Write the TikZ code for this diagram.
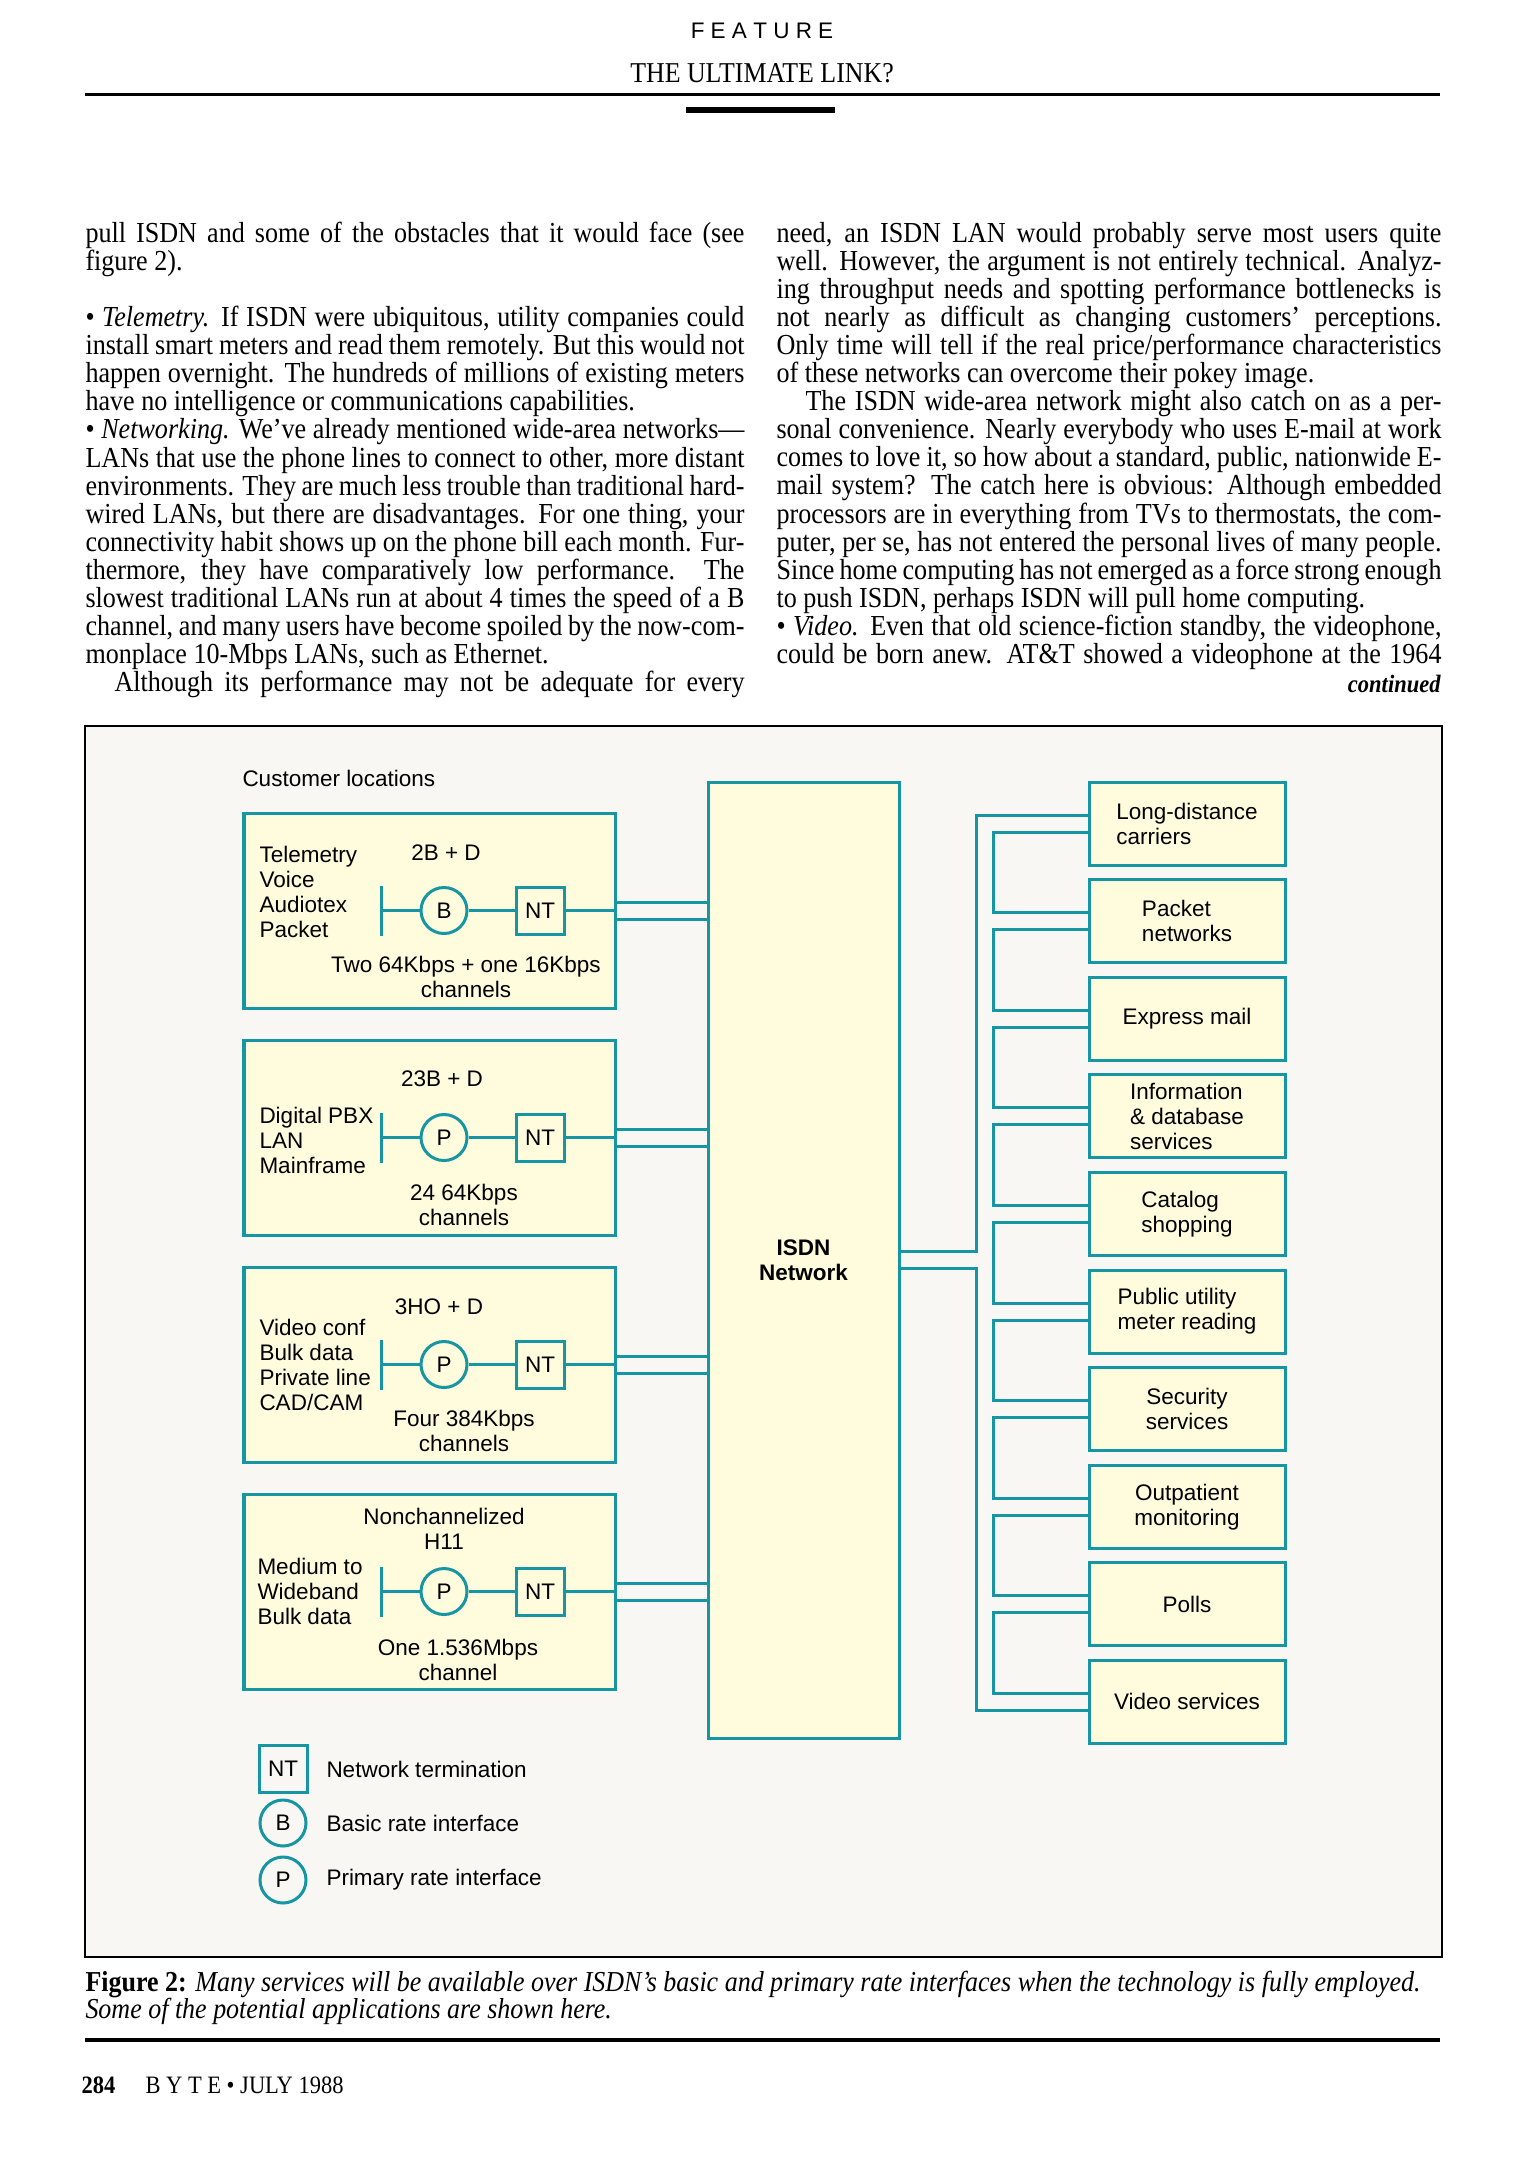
\documentclass[tikz,border=0pt]{standalone}
\usepackage{fontspec}
\setmainfont[FakeStretch=0.9]{Liberation Serif}
\newfontfamily\dfont{Liberation Sans}
\usepackage{xcolor}
\usetikzlibrary{positioning,calc,backgrounds}

\definecolor{isdnteal}{RGB}{22,150,162}
\definecolor{boxfill}{RGB}{255,252,222}
\definecolor{figbg}{RGB}{248,247,244}

\newcommand{\lcol}[1]{\makebox[263.6pt][s]{#1}}
\newcommand{\rcol}[1]{\makebox[266pt][s]{#1}}

\begin{document}
\begin{tikzpicture}[
  x=0.4pt, y=-0.4pt,
  body/.style={anchor=base west,inner sep=0pt,font=\fontsize{11.6}{11.24}\selectfont},
  lbl/.style={inner sep=0pt,align=center,font=\dfont\fontsize{9}{10}\selectfont},
  cust/.style={rectangle,draw=isdnteal,line width=1.2pt,fill=boxfill,minimum width=148.4pt,minimum height=78pt},
  net/.style={rectangle,draw=isdnteal,line width=1.2pt,fill=boxfill,minimum width=76.4pt,minimum height=382.4pt,align=center,font=\dfont\bfseries\fontsize{9}{10}\selectfont},
  svc/.style={rectangle,draw=isdnteal,line width=1.2pt,fill=boxfill,minimum width=78.4pt,minimum height=33.2pt,inner sep=0pt,align=left,font=\dfont\fontsize{9}{10}\selectfont},
  rif/.style={circle,draw=isdnteal,line width=1.2pt,minimum size=18.4pt,inner sep=0pt,font=\dfont\fontsize{9}{10}\selectfont},
  nt/.style={rectangle,draw=isdnteal,line width=1.2pt,minimum width=19.2pt,minimum height=18.8pt,inner sep=0pt,font=\dfont\fontsize{9}{10}\selectfont},
  wire/.style={draw=isdnteal,line width=1.2pt}
]
\useasboundingbox (0,0) rectangle (1537,2160);
\begin{scope}[on background layer]
  \fill[white] (0,0) rectangle (1537,2160);
  \node[draw,line width=0.8pt,fill=figbg,minimum width=542.8pt,minimum height=492.4pt,inner sep=0pt] (fig) at (763.5,1341.5) {};
\end{scope}

% running head
\node[font=\dfont\fontsize{9}{10}\selectfont] (kicker) at (762,31) {F E A T U R E};
\node[font=\fontsize{11.5}{12}\selectfont] (title) at (762,73) {THE ULTIMATE LINK?};
\draw[line width=1.2pt] (85,94) -- (1440,94);
\fill (686,107) rectangle (835,113);

% left column
\node[body] (ltxt1) at (85,242) {\lcol{pull ISDN and some of the obstacles that it would face (see}};
\node[body] (ltxt2) at (85,270) {\lcol{figure 2).\hfill}};
\foreach \txt [count=\i from 3] in {
  {• \textit{Telemetry.} If ISDN were ubiquitous, utility companies could},
  {install smart meters and read them remotely. But this would not},
  {happen overnight. The hundreds of millions of existing meters},
  {have no intelligence or communications capabilities.\hfill},
  {• \textit{Networking.} We've already mentioned wide-area networks---},
  {LANs that use the phone lines to connect to other, more distant},
  {environments. They are much less trouble than traditional hard-},
  {wired LANs, but there are disadvantages. For one thing, your},
  {connectivity habit shows up on the phone bill each month. Fur-},
  {thermore, they have comparatively low performance. The},
  {slowest traditional LANs run at about 4 times the speed of a B},
  {channel, and many users have become spoiled by the now-com-},
  {monplace 10-Mbps LANs, such as Ethernet.\hfill},
  {\hspace*{1em}Although its performance may not be adequate for every}}
  \node[body] (ltxt\i) at (85,{326.5+28.1*(\i-3)}) {\lcol{\txt}};

% right column
\foreach \txt [count=\i] in {
  {need, an ISDN LAN would probably serve most users quite},
  {well. However, the argument is not entirely technical. Analyz-},
  {ing throughput needs and spotting performance bottlenecks is},
  {not nearly as difficult as changing customers' perceptions.},
  {Only time will tell if the real price/performance characteristics},
  {of these networks can overcome their pokey image.\hfill},
  {\hspace*{1em}The ISDN wide-area network might also catch on as a per-},
  {sonal convenience. Nearly everybody who uses E-mail at work},
  {comes to love it, so how about a standard, public, nationwide E-},
  {mail system? The catch here is obvious: Although embedded},
  {processors are in everything from TVs to thermostats, the com-},
  {puter, per se, has not entered the personal lives of many people.},
  {Since home computing has not emerged as a force strong enough},
  {to push ISDN, perhaps ISDN will pull home computing.\hfill},
  {• \textit{Video.} Even that old science-fiction standby, the videophone,},
  {could be born anew. AT\&T showed a videophone at the 1964}}
  \node[body] (rtxt\i) at (776,{242+28.1*(\i-1)}) {\rcol{\txt}};
\node[anchor=base east,inner sep=0pt,font=\fontsize{10}{12}\selectfont\bfseries\itshape] (cont) at (1441,692) {continued};

% customer side
\node[lbl,anchor=west] (custloc) at (242,778) {Customer locations};
\node[cust] (c1) at (429.5,910.5) {};
\node[cust,below=11.6pt of c1] (c2) {};
\node[cust,below=11.6pt of c2] (c3) {};
\node[cust,below=11.6pt of c3] (c4) {};

\foreach \k/\r in {1/B,2/P,3/P,4/P}{
  \coordinate (bar\k) at ($(c\k)+(-48.5,0)$);
  \node[rif] (r\k) at ($(c\k)+(14.5,0)$) {\r};
  \node[nt] (nt\k) at ($(c\k)+(110.5,0)$) {NT};
  \draw[wire] ($(bar\k)+(0,-25)$) -- ($(bar\k)+(0,25)$);
  \draw[wire] (bar\k) -- (r\k) -- (nt\k) -- (c\k.east);
}

\node[lbl] (rate1) at (446,853) {2B + D};
\node[lbl,anchor=west,align=left] (use1) at (259,892) {Telemetry\\Voice\\Audiotex\\Packet};
\node[lbl] (chan1) at (466,977) {Two 64Kbps + one 16Kbps\\channels};

\node[lbl] (rate2) at (442,1079) {23B + D};
\node[lbl,anchor=west,align=left] (use2) at (259,1140) {Digital PBX\\LAN\\Mainframe};
\node[lbl] (chan2) at (464,1204.5) {24 64Kbps\\channels};

\node[lbl] (rate3) at (439,1307) {3HO + D};
\node[lbl,anchor=west,align=left] (use3) at (259,1365) {Video conf\\Bulk data\\Private line\\CAD/CAM};
\node[lbl] (chan3) at (464,1431) {Four 384Kbps\\channels};

\node[lbl] (rate4) at (444,1529) {Nonchannelized\\H11};
\node[lbl,anchor=west,align=left] (use4) at (257,1591) {Medium to\\Wideband\\Bulk data};
\node[lbl] (chan4) at (458,1659.5) {One 1.536Mbps\\channel};

% legend
\node[nt] (legnt) at (283,1769) {NT};
\node[lbl,anchor=west] (legntt) at (326,1769) {Network termination};
\node[rif] (legb) at (283,1823) {B};
\node[lbl,anchor=west] (legbt) at (326,1823) {Basic rate interface};
\node[rif] (legp) at (283,1880) {P};
\node[lbl,anchor=west] (legpt) at (326,1880) {Primary rate interface};

% network and services
\node[net] (isdn) at (803.5,1260) {ISDN\\Network};

\node[svc] (s1) at (1187,823.5) {Long-distance\\carriers};
\node[svc,below=4.64pt of s1] (s2) {Packet\\networks};
\node[svc,below=4.64pt of s2] (s3) {Express mail};
\node[svc,below=4.64pt of s3] (s4) {Information\\\& database\\services};
\node[svc,below=4.64pt of s4] (s5) {Catalog\\shopping};
\node[svc,below=4.64pt of s5] (s6) {Public utility\\meter reading};
\node[svc,below=4.64pt of s6,align=center] (s7) {Security\\services};
\node[svc,below=4.64pt of s7,align=center] (s8) {Outpatient\\monitoring};
\node[svc,below=4.64pt of s8] (s9) {Polls};
\node[svc,below=4.64pt of s9] (s10) {Video services};

% double-walled links
\begin{scope}[on background layer]
  \coordinate (trunk) at (985,1262);
  \foreach \w/\c in {8pt/isdnteal,5.6pt/figbg}{
    \draw[line width=\w,\c]
      \foreach \k in {1,...,4}{(c\k.east) -- (c\k.east -| isdn.west)}
      (isdn.east) -- (isdn.east -| trunk)
      (s1.west) -| (trunk) |- (s10.west)
      \foreach \k in {2,...,9}{(s\k.west) -- (s\k.west -| trunk)};
  }
\end{scope}

% caption and folio
\node[anchor=base west,inner sep=0pt,font=\fontsize{11.55}{12}\selectfont] (cap1) at (85,1991) {\textbf{Figure 2:} \textit{Many services will be available over ISDN's basic and primary rate interfaces when the technology is fully employed.}};
\node[anchor=base west,inner sep=0pt,font=\fontsize{11.55}{12}\selectfont] (cap2) at (85,2018) {\textit{Some of the potential applications are shown here.}};
\draw[line width=1.6pt] (85,2040) -- (1440,2040);
\node[anchor=base west,inner sep=0pt,font=\fontsize{10}{12}\selectfont] (folio) at (81,2093) {\textbf{284}};
\node[anchor=base west,inner sep=0pt,font=\fontsize{10}{12}\selectfont] (mag) at (145,2093) {B Y T E \textbullet\ JULY 1988};
\end{tikzpicture}
\end{document}
